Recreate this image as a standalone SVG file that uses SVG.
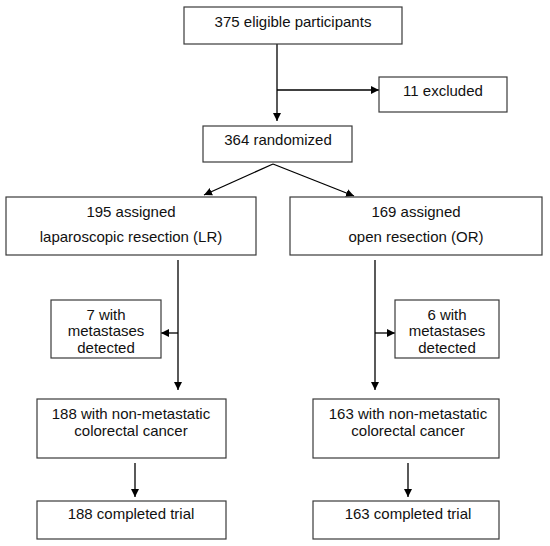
<svg xmlns="http://www.w3.org/2000/svg" width="550" height="546" viewBox="0 0 550 546">
<defs>
<marker id="ah" markerWidth="9" markerHeight="9" refX="8" refY="4.5" orient="auto" markerUnits="userSpaceOnUse">
<path d="M0,0.5 L8,4.5 L0,8.5 Z" fill="#000"/>
</marker>
<style>
.box{fill:#fff;stroke:#3a3a3a;stroke-width:1.2}
.t{font-family:"Liberation Sans",Arial,sans-serif;font-size:15px;fill:#111;text-anchor:middle}
.c{fill:none;stroke:#000;stroke-width:1.3}
</style>
</defs>
<rect width="550" height="546" fill="#fff"/>
<g id="connectors">
<line class="c" x1="277" y1="44" x2="277" y2="121" marker-end="url(#ah)"/>
<line class="c" x1="277" y1="90" x2="379" y2="90" marker-end="url(#ah)"/>
<line class="c" x1="273" y1="164" x2="204" y2="195" marker-end="url(#ah)"/>
<line class="c" x1="273" y1="164" x2="354" y2="196" marker-end="url(#ah)"/>
<line class="c" x1="178" y1="260" x2="178" y2="390" marker-end="url(#ah)"/>
<line class="c" x1="178" y1="333" x2="161" y2="333" marker-end="url(#ah)"/>
<line class="c" x1="375" y1="260" x2="375" y2="390" marker-end="url(#ah)"/>
<line class="c" x1="375" y1="333" x2="395" y2="333" marker-end="url(#ah)"/>
<line class="c" x1="135" y1="463" x2="135" y2="497" marker-end="url(#ah)"/>
<line class="c" x1="408" y1="463" x2="408" y2="497" marker-end="url(#ah)"/>
</g>
<g id="eligible"><rect class="box" x="184" y="7" width="218" height="37"/><text class="t" x="293" y="27">375 eligible participants</text></g>
<g id="excluded"><rect class="box" x="379" y="77" width="128" height="35"/><text class="t" x="443" y="96">11 excluded</text></g>
<g id="randomized"><rect class="box" x="203" y="126" width="149" height="36"/><text class="t" x="278" y="145">364 randomized</text></g>
<g id="lr"><rect class="box" x="6" y="197" width="250" height="58"/><text class="t" x="131" y="217">195 assigned</text><text class="t" x="131" y="242">laparoscopic resection (LR)</text></g>
<g id="or"><rect class="box" x="290" y="197" width="252" height="58"/><text class="t" x="416" y="217">169 assigned</text><text class="t" x="416" y="242">open resection (OR)</text></g>
<g id="met-lr"><rect class="box" x="51" y="300" width="110" height="58"/><text class="t" x="106" y="320">7 with</text><text class="t" x="106" y="336">metastases</text><text class="t" x="106" y="353">detected</text></g>
<g id="met-or"><rect class="box" x="395" y="300" width="104" height="58"/><text class="t" x="447" y="320">6 with</text><text class="t" x="447" y="336">metastases</text><text class="t" x="447" y="353">detected</text></g>
<g id="nm-lr"><rect class="box" x="37" y="399" width="189" height="59"/><text class="t" x="131" y="419">188 with non-metastatic</text><text class="t" x="131" y="436">colorectal cancer</text></g>
<g id="nm-or"><rect class="box" x="313" y="399" width="186" height="59"/><text class="t" x="408" y="419">163 with non-metastatic</text><text class="t" x="408" y="436">colorectal cancer</text></g>
<g id="done-lr"><rect class="box" x="37" y="501" width="189" height="38"/><text class="t" x="131" y="519">188 completed trial</text></g>
<g id="done-or"><rect class="box" x="313" y="501" width="186" height="38"/><text class="t" x="408" y="519">163 completed trial</text></g>
</svg>
